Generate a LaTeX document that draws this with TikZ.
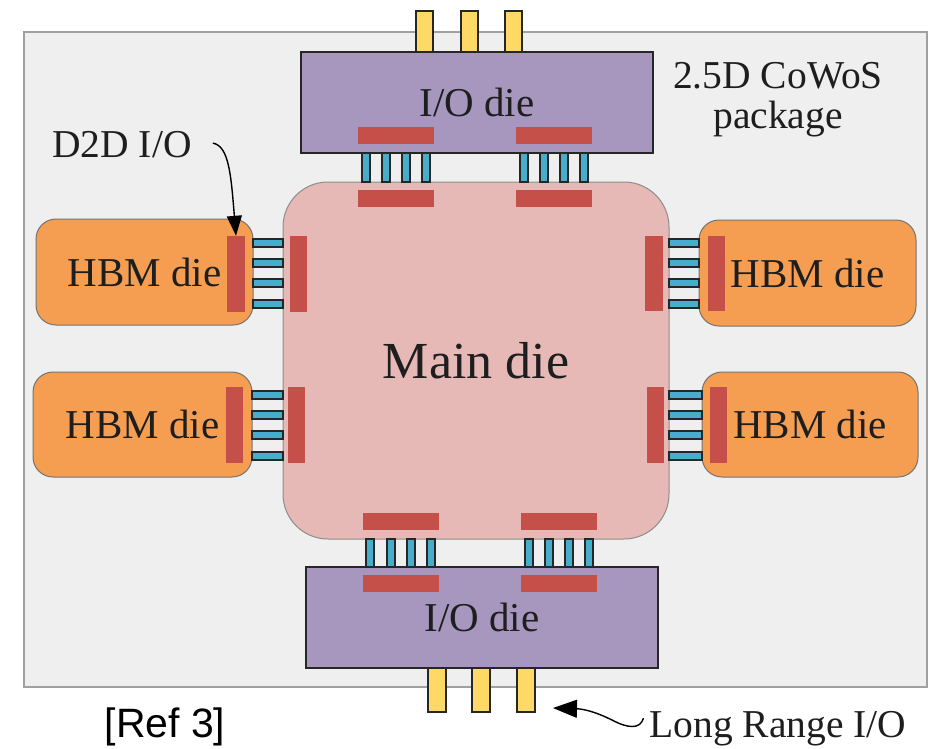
\documentclass[tikz,border=0pt]{standalone}
\usepackage{fontspec}
\setmainfont{Liberation Serif}
\newfontfamily\refsans{Liberation Sans}
\usetikzlibrary{arrows.meta}
\definecolor{pkgbg}{HTML}{EFEFEF}
\definecolor{pkgline}{HTML}{A0A0A0}
\definecolor{iodie}{HTML}{A797BF}
\definecolor{pinyel}{HTML}{FFD966}
\definecolor{padred}{HTML}{C5504A}
\definecolor{pilblue}{HTML}{46AECB}
\definecolor{maindie}{HTML}{E7B9B6}
\definecolor{hbm}{HTML}{F59E52}
\definecolor{txt}{HTML}{1E1E1E}
\tikzset{
  pkgbox/.style={draw=pkgline, fill=pkgbg, line width=1.3pt, inner sep=0pt},
  iobox/.style={draw=black!85, fill=iodie, line width=1.4pt, inner sep=0pt, text=txt,
                font=\fontsize{41}{45}\selectfont},
  mainbox/.style={draw=black!45, fill=maindie, line width=1pt, rounded corners=45pt, inner sep=0pt,
                text=txt, font=\fontsize{52}{60}\selectfont},
  hbmbox/.style={draw=black!55, fill=hbm, line width=1pt, rounded corners=20pt, inner sep=0pt,
                text=txt, font=\fontsize{41}{45}\selectfont},
  lbl/.style={inner sep=0pt, text=txt, font=\fontsize{39.5}{44}\selectfont, anchor=base},
  ypin/.style={draw=black!85, fill=pinyel, line width=1.3pt},
  bpil/.style={draw=black!85, fill=pilblue, line width=1.2pt},
  rpad/.style={fill=padred},
  callout/.style={draw=black, line width=1.4pt}
}
\begin{document}
\begin{tikzpicture}[x=1pt,y=-1pt]
\useasboundingbox (0,0) rectangle (943,748);
\fill[white] (0,0) rectangle (943,748);
% package
\node[pkgbox, minimum width=903pt, minimum height=655pt] (pkg) at (475.5,359.5) {};
% top long range pins
\foreach \x in {416,461,505} \draw[ypin] (\x,11) rectangle ++(17,42);
% top I/O die
\node[iobox, minimum width=352pt, minimum height=101pt] (iotop) at (477,102.5) {I/O die};
% main die
\node[mainbox, minimum width=386pt, minimum height=357pt] (main) at (476,360.5) {Main die};
% HBM dies
\node[hbmbox, minimum width=217pt, minimum height=106pt] (hbmL1) at (144.5,272) {HBM die};
\node[hbmbox, minimum width=219pt, minimum height=105pt] (hbmL2) at (142.5,424.5) {HBM die};
\node[hbmbox, minimum width=217pt, minimum height=106pt] (hbmR1) at (807.5,273) {HBM die};
\node[hbmbox, minimum width=216pt, minimum height=105pt] (hbmR2) at (810,424.5) {HBM die};
% bottom I/O die
\node[iobox, minimum width=352pt, minimum height=101pt] (iobot) at (482,617.5) {I/O die};
\foreach \x in {428,472,517} \draw[ypin] (\x,668) rectangle ++(18,44);
% pillars top
\foreach \x in {362,382,402,422,520,540,560,580} \draw[bpil] (\x,153) rectangle ++(8,29);
% pillars bottom
\foreach \x in {366,387,407,427,525,545,565,585} \draw[bpil] (\x,539) rectangle ++(8,28);
% HBM pins
\foreach \y in {243,263,283,304} {
  \draw[bpil] (253,\y-4) rectangle (283,\y+4);
  \draw[bpil] (669,\y-4) rectangle (699,\y+4);
}
\foreach \y in {395,415,435,456} {
  \draw[bpil] (252,\y-4) rectangle (283,\y+4);
  \draw[bpil] (669,\y-4) rectangle (702,\y+4);
}
% red D2D pads
\fill[rpad] (358,127) rectangle (434,144);
\fill[rpad] (516,127) rectangle (592,144);
\fill[rpad] (358,190) rectangle (434,207);
\fill[rpad] (516,190) rectangle (592,207);
\fill[rpad] (363,513) rectangle (439,530);
\fill[rpad] (521,513) rectangle (597,530);
\fill[rpad] (363,575) rectangle (439,592);
\fill[rpad] (521,575) rectangle (597,592);
\fill[rpad] (290,236) rectangle (307,312);
\fill[rpad] (288,387) rectangle (305,463);
\fill[rpad] (645,236) rectangle (663,311);
\fill[rpad] (647,387) rectangle (664,463);
\node[rpad, inner sep=0pt, minimum width=18pt, minimum height=76pt] (padL1) at (236,274) {};
\fill[rpad] (226,387) rectangle (243,463);
\fill[rpad] (708,236) rectangle (725,311);
\fill[rpad] (710,387) rectangle (727,463);
% labels
\node[lbl] (cowos1) at (778,88) {2.5D CoWoS};
\node[lbl] (cowos2) at (778,128) {package};
\node[lbl] (d2d) at (122,157) {D2D I/O};
\node[lbl] (lr) at (778,737) {Long Range I/O};
\node[inner sep=0pt, anchor=base, font=\refsans\fontsize{41}{46}\selectfont] (ref) at (165,737) {[Ref 3]};
\coordinate (lrtip) at (553,708);
% callouts
\draw[callout, -{Triangle[length=20pt,width=15pt]}] ([xshift=21pt,yshift=1pt]d2d.east) .. controls (229,146) and (231,175) .. (padL1.north);
\draw[callout, -{Triangle[length=24pt,width=18pt]}] ([xshift=-6pt,yshift=10pt]lr.west) .. controls (640,730) and (627,728) .. (612,720)
   .. controls (598,713) and (585,709) .. (lrtip);
\end{tikzpicture}
\end{document}
